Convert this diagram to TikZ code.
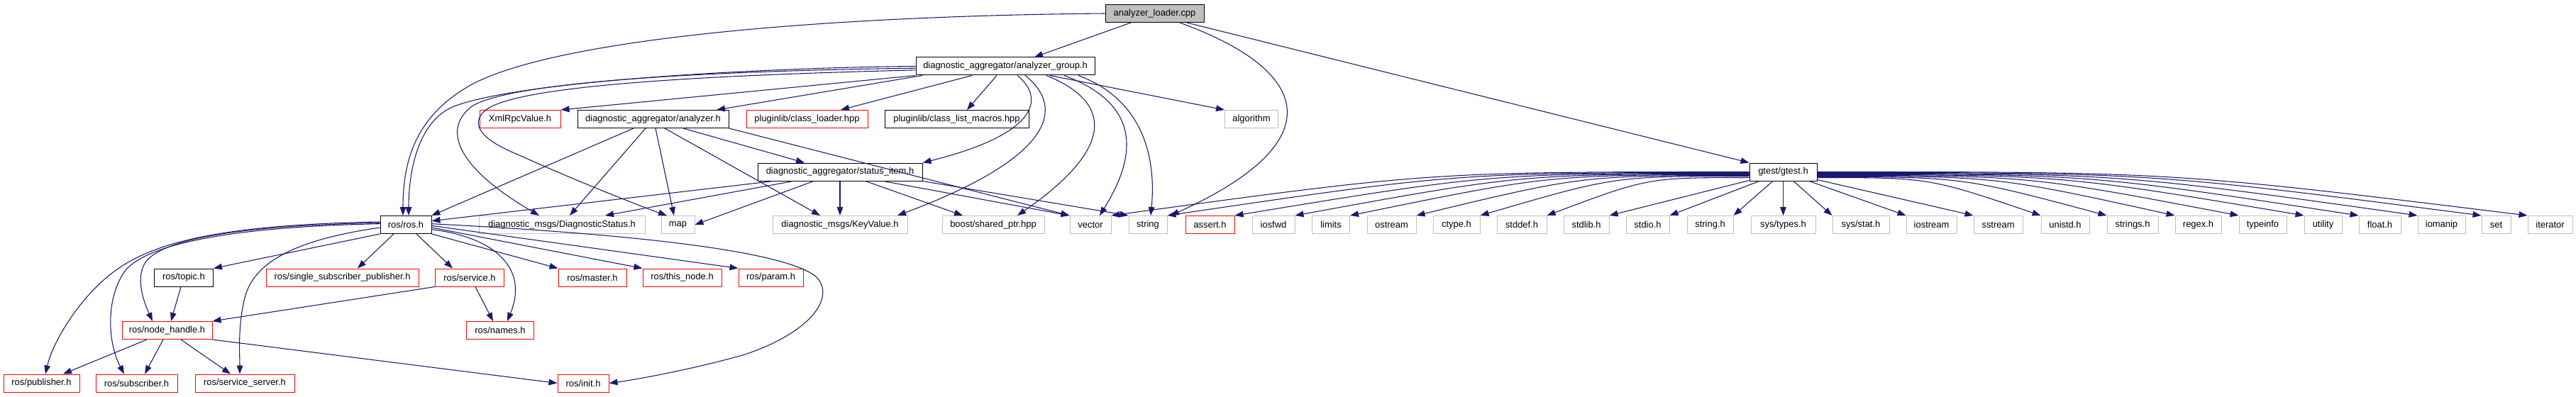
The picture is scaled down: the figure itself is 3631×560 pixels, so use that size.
\documentclass[tikz,border=0pt]{standalone}
\usepackage{fontspec}
\setmainfont{Liberation Sans}
\usetikzlibrary{arrows.meta,calc}
\definecolor{edgecol}{HTML}{191970}
\definecolor{grayb}{HTML}{BFBFBF}
\newcommand\gcur[2]{\draw[dep] let \p1=(#1), \p2=(#2) in (\p1) .. controls ({(\x1+\x2)/2},\y1) .. (\p2);}
\begin{document}
\begin{tikzpicture}[x=0.75pt,y=-0.75pt,
  box/.style={rectangle, line width=0.75pt, minimum height=18.75pt, inner sep=0pt, fill=white,
    font=\fontsize{9.7pt}{11pt}\selectfont},
  blk/.style={box, draw=black},
  redb/.style={box, draw=red},
  ext/.style={box, draw=grayb},
  src/.style={box, draw=black, fill=grayb},
  wd/.style={minimum width={#1*0.75pt}},
  dep/.style={draw=edgecol, line width=0.8pt, -{Triangle[length=9pt,width=6.5pt]}}]
\useasboundingbox (0,0) rectangle (3631,560);
% row 0-3
\node[src,wd=139] (loader) at (1627.5,19) {analyzer\_loader.cpp};
\node[blk,wd=252] (group) at (1417,93.5) {diagnostic\_aggregator/analyzer\_group.h};
\node[redb,wd=114] (xmlrpc) at (733,168) {XmlRpcValue.h};
\node[blk,wd=213] (analyzer) at (920.5,168) {diagnostic\_aggregator/analyzer.h};
\node[redb,wd=171] (classloader) at (1137.5,168) {pluginlib/class\_loader.hpp};
\node[blk,wd=203] (classlist) at (1348.5,168) {pluginlib/class\_list\_macros.hpp};
\node[ext,wd=75] (algorithm) at (1764,168) {algorithm};
\node[blk,wd=232] (status) at (1184,242.5) {diagnostic\_aggregator/status\_item.h};
\node[blk,wd=95] (gtest) at (2513.5,242.5) {gtest/gtest.h};
% row 4
\node[blk,wd=72] (ros) at (572,317) {ros/ros.h};
\node[ext,wd=234] (diagstatus) at (792,317) {diagnostic\_msgs/DiagnosticStatus.h};
\node[ext,wd=47] (map) at (955.5,317) {map};
\node[ext,wd=190] (keyvalue) at (1184,317) {diagnostic\_msgs/KeyValue.h};
\node[ext,wd=144] (boost) at (1400,317) {boost/shared\_ptr.hpp};
\node[ext,wd=58] (vector) at (1537,317) {vector};
\node[ext,wd=54] (string) at (1618,317) {string};
\node[redb,wd=69] (assert) at (1705.5,317) {assert.h};
\node[ext,wd=60] (iosfwd) at (1795,317) {iosfwd};
\node[ext,wd=53] (limits) at (1876,317) {limits};
\node[ext,wd=69] (ostream) at (1961.5,317) {ostream};
\node[ext,wd=66] (ctype) at (2053,317) {ctype.h};
\node[ext,wd=70] (stddef) at (2145,317) {stddef.h};
\node[ext,wd=64] (stdlib) at (2236,317) {stdlib.h};
\node[ext,wd=61] (stdio) at (2322.5,317) {stdio.h};
\node[ext,wd=65] (stringh) at (2410.5,317) {string.h};
\node[ext,wd=91] (systypes) at (2513.5,317) {sys/types.h};
\node[ext,wd=80] (sysstat) at (2623,317) {sys/stat.h};
\node[ext,wd=71] (iostream) at (2722.5,317) {iostream};
\node[ext,wd=69] (sstream) at (2816.5,317) {sstream};
\node[ext,wd=68] (unistd) at (2911,317) {unistd.h};
\node[ext,wd=72] (strings) at (3006,317) {strings.h};
\node[ext,wd=65] (regex) at (3098.5,317) {regex.h};
\node[ext,wd=67] (typeinfo) at (3189.5,317) {typeinfo};
\node[ext,wd=53] (utility) at (3274.5,317) {utility};
\node[ext,wd=59] (floath) at (3354.5,317) {float.h};
\node[ext,wd=67] (iomanip) at (3441.5,317) {iomanip};
\node[ext,wd=41] (set) at (3518.5,317) {set};
\node[ext,wd=63] (iterator) at (3594.5,317) {iterator};
% row 5
\node[blk,wd=83] (topic) at (259,391.5) {ros/topic.h};
\node[redb,wd=215] (singlesub) at (482.5,391.5) {ros/single\_subscriber\_publisher.h};
\node[redb,wd=97] (service) at (662,391.5) {ros/service.h};
\node[redb,wd=96] (master) at (835,391.5) {ros/master.h};
\node[redb,wd=111] (thisnode) at (961.5,391.5) {ros/this\_node.h};
\node[redb,wd=91] (param) at (1086.5,391.5) {ros/param.h};
% row 6
\node[redb,wd=127] (nodehandle) at (235.5,466) {ros/node\_handle.h};
\node[redb,wd=95] (names) at (705,466) {ros/names.h};
% row 7
\node[redb,wd=107] (publisher) at (58.5,540.5) {ros/publisher.h};
\node[redb,wd=115] (subscriber) at (192.5,540.5) {ros/subscriber.h};
\node[redb,wd=140] (serviceserver) at (345,540.5) {ros/service\_server.h};
\node[redb,wd=72] (init) at (822,540.5) {ros/init.h};

% analyzer_loader.cpp
\draw[dep] (1594,0 |- loader.south) -- (1458,0 |- group.north);
\draw[dep] (loader.west) .. controls (1200,22) and (800,50) .. (667,118) .. controls (590,160) and (568,220) .. (568,0 |- ros.north);
\draw[dep] (1663,0 |- loader.south) .. controls (1850,100) and (1880,200) .. (1650,0 |- string.north);
\draw[dep] (1673,0 |- loader.south) -- (gtest.north west);

% analyzer_group.h
\draw[dep] (group.west) .. controls (1100,95) and (740,112) .. (640,150) .. controls (590,170) and (576,240) .. (576,0 |- ros.north);
\draw[dep] ([yshift=-2pt]group.west) .. controls (1000,100) and (720,115) .. (665,150) .. controls (620,185) and (650,240) .. (760,0 |- diagstatus.north);
\draw[dep] ([yshift=-4pt]group.west) .. controls (1000,106) and (730,120) .. (685,155) .. controls (660,175) and (680,198) .. (730,218) .. controls (800,250) and (900,290) .. (940,0 |- map.north);
\draw[dep] (group.south west) -- (xmlrpc.north east);
\draw[dep] (1300,0 |- group.south) -- (1010,0 |- analyzer.north);
\draw[dep] (1370,0 |- group.south) -- (1185,0 |- classloader.north);
\draw[dep] (1405,0 |- group.south) -- (1363,0 |- classlist.north);
\draw[dep] (1480,0 |- group.south) -- (algorithm.north west);
\draw[dep] (1434,0 |- group.south) .. controls (1475,140) and (1460,190) .. (status.north east);
\draw[dep] (1445,0 |- group.south) .. controls (1500,150) and (1490,220) .. (1265,0 |- keyvalue.north);
\draw[dep] (1475,0 |- group.south) .. controls (1570,145) and (1570,210) .. (1434,0 |- boost.north);
\draw[dep] (1500,0 |- group.south) .. controls (1590,140) and (1615,200) .. (1550,0 |- vector.north);
\draw[dep] (1520,0 |- group.south) .. controls (1610,140) and (1630,220) .. (1622,0 |- string.north);

% analyzer.h
\draw[dep] (893,0 |- analyzer.south) -- (ros.north east);
\draw[dep] (910,0 |- analyzer.south) -- (803,0 |- diagstatus.north);
\draw[dep] (924,0 |- analyzer.south) -- (950,0 |- map.north);
\draw[dep] (937,0 |- analyzer.south) -- (1156,0 |- keyvalue.north);
\draw[dep] (963,0 |- analyzer.south) -- (1134,0 |- status.north);
\draw[dep] (analyzer.south east) -- (vector.north west);

% status_item.h
\draw[dep] (1090,0 |- status.south) -- ([yshift=4pt]ros.east);
\draw[dep] (1118,0 |- status.south) -- (853,0 |- diagstatus.north);
\draw[dep] (1147,0 |- status.south) -- (map.east);
\draw[dep] (status) -- (keyvalue);
\draw[dep] (1220,0 |- status.south) -- (1357,0 |- boost.north);
\draw[dep] (1245,0 |- status.south) -- (vector.north west);
\draw[dep] (status.south east) -- (string.north west);

% ros/ros.h
\draw[dep] (ros.south west) -- (topic.north east);
\draw[dep] (555,0 |- ros.south) -- (504,0 |- singlesub.north);
\draw[dep] (587,0 |- ros.south) -- (638,0 |- service.north);
\draw[dep] (ros.south east) -- (master.north west);
\draw[dep] ([yshift=-3pt]ros.east) -- (thisnode.north west);
\draw[dep] ([yshift=-1pt]ros.east) -- (param.north west);
\draw[dep] ([yshift=-5pt]ros.east) .. controls (700,335) and (745,380) .. (715,0 |- names.north);
\draw[dep] ([yshift=1pt]ros.east) .. controls (850,328) and (1100,350) .. (1150,390) .. controls (1180,420) and (1140,470) .. (1050,500) .. controls (980,520) and (900,535) .. (init.east);
\draw[dep] ([yshift=2pt]ros.west) .. controls (350,318) and (230,335) .. (205,370) .. controls (192,390) and (200,420) .. (215,0 |- nodehandle.north);
\draw[dep] ([yshift=3pt]ros.west) .. controls (300,317) and (215,345) .. (165,380) .. controls (115,415) and (75,480) .. (64,0 |- publisher.north);
\draw[dep] ([yshift=1pt]ros.west) .. controls (320,320) and (210,345) .. (178,380) .. controls (150,415) and (150,480) .. (175,0 |- subscriber.north);
\draw[dep] ([yshift=-3pt]ros.west) .. controls (440,335) and (360,360) .. (345,420) .. controls (335,460) and (338,500) .. (338,0 |- serviceserver.north);

% topic, service, node_handle
\draw[dep] (255,0 |- topic.south) -- (241,0 |- nodehandle.north);
\draw[dep] (service.south west) -- (nodehandle.north east);
\draw[dep] (670,0 |- service.south) -- (695,0 |- names.north);
\draw[dep] (207,0 |- nodehandle.south) -- (89,0 |- publisher.north);
\draw[dep] (230,0 |- nodehandle.south) -- (204,0 |- subscriber.north);
\draw[dep] (255,0 |- nodehandle.south) -- (325,0 |- serviceserver.north);
\draw[dep] (nodehandle.south east) -- (init.west);

% gtest/gtest.h
\gcur{$(gtest.west)+(0,0)$}{vector.north east}
\gcur{$(gtest.west)+(0,1)$}{string.north east}
\gcur{$(gtest.west)+(0,2)$}{assert.north east}
\gcur{$(gtest.west)+(0,3)$}{iosfwd.north east}
\gcur{$(gtest.west)+(0,4)$}{limits.north east}
\gcur{$(gtest.west)+(0,5)$}{ostream.north east}
\gcur{$(gtest.west)+(0,6)$}{ctype.north east}
\gcur{$(gtest.west)+(0,8)$}{stddef.north east}
\draw[dep] (gtest) -- (stdlib.north east);
\draw[dep] (gtest) -- (stdio.north east);
\draw[dep] (gtest) -- (stringh.north east);
\draw[dep] (gtest) -- (systypes);
\draw[dep] (gtest) -- (sysstat.north west);
\draw[dep] (gtest) -- (iostream.north west);
\draw[dep] (gtest) -- (sstream.north west);
\gcur{$(gtest.east)+(0,8)$}{unistd.north west}
\gcur{$(gtest.east)+(0,7)$}{strings.north west}
\gcur{$(gtest.east)+(0,6)$}{regex.north west}
\gcur{$(gtest.east)+(0,5)$}{typeinfo.north west}
\gcur{$(gtest.east)+(0,4)$}{utility.north west}
\gcur{$(gtest.east)+(0,3)$}{floath.north west}
\gcur{$(gtest.east)+(0,2)$}{iomanip.north west}
\gcur{$(gtest.east)+(0,1)$}{set.north west}
\gcur{$(gtest.east)+(0,0)$}{iterator.north west}
\end{tikzpicture}
\end{document}
